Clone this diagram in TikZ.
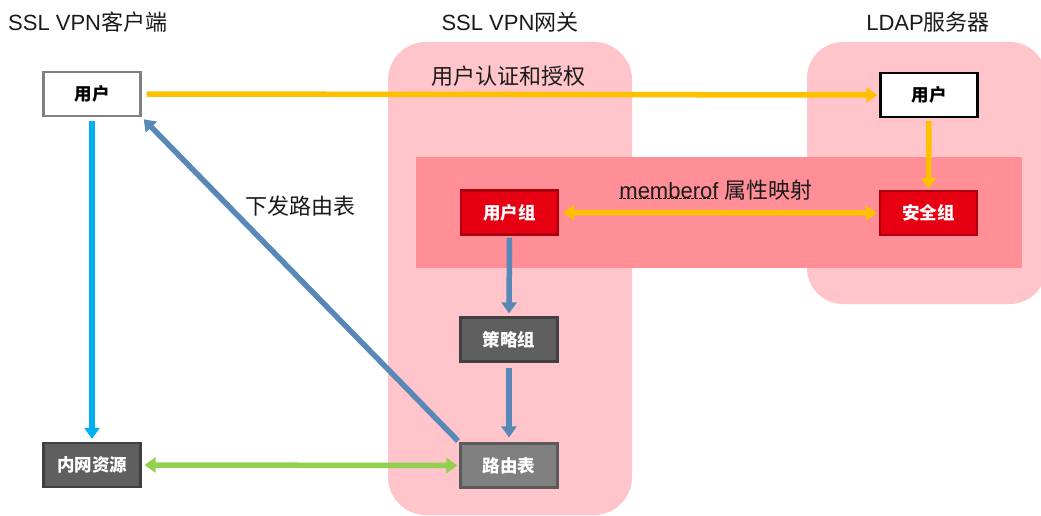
\documentclass[tikz,border=0pt]{standalone}
\usepackage{fontspec}
\setmainfont{Liberation Sans}
\newfontfamily\cjk{Noto Sans CJK SC}
\usetikzlibrary{arrows.meta}
\definecolor{lpink}{HTML}{FFC5CB}
\definecolor{dpink}{HTML}{FF8E97}
\definecolor{myred}{HTML}{E60012}
\definecolor{myredb}{HTML}{B0000E}
\definecolor{dgray}{HTML}{5F5F5F}
\definecolor{dgrayb}{HTML}{404040}
\definecolor{mgray}{HTML}{808080}
\definecolor{mgrayb}{HTML}{5A5A5A}
\definecolor{ylw}{HTML}{FFC000}
\definecolor{cyanb}{HTML}{00B0F0}
\definecolor{steel}{HTML}{5788B8}
\definecolor{grn}{HTML}{92D050}
\definecolor{txt}{HTML}{1A1A1A}
\tikzset{
  box/.style={minimum width=97pt, minimum height=44pt, inner sep=0pt, line width=2.2pt, font=\fontsize{17.5}{17.5}\selectfont\cjk\bfseries},
  whitebox/.style={box, draw=#1, fill=white, text=black},
  redbox/.style={box, draw=myredb, fill=myred, text=white},
  graybox/.style={box, draw=dgrayb, fill=dgray, text=white},
  lgraybox/.style={box, draw=mgrayb, fill=mgray, text=white},
  title/.style={font=\fontsize{22}{22}\selectfont, text=txt, inner sep=0pt},
  arr/.style={line width=5.5pt, -{Triangle[length=11pt,width=15pt]}},
  darr/.style={line width=5.5pt, {Triangle[length=11pt,width=15pt]}-{Triangle[length=11pt,width=15pt]}},
}
\begin{document}
\begin{tikzpicture}[x=1pt,y=-1pt]
\useasboundingbox (0,0) rectangle (1041,516);
\clip (0,0) rectangle (1041,516);
% regions
\fill[lpink, rounded corners=38pt] (388,42) rectangle (632,515);
\fill[lpink, rounded corners=36pt] (807,42) rectangle (1046,304);
\fill[dpink] (416,157) rectangle (1022,268);
% titles
\node[title, anchor=west] (t1) at (8,22) {SSL VPN{\cjk 客户端}};
\node[title] (t2) at (510,22) {SSL VPN{\cjk 网关}};
\node[title] (t3) at (928,22) {LDAP{\cjk 服务器}};
\node[title] (t4) at (508,76) {\cjk 用户认证和授权};
\node[title] (t5) at (300,206) {\cjk 下发路由表};
\node[title] (t6) at (716,190) {memberof {\cjk 属性映射}};
\draw[txt, line width=0.8pt, dash pattern=on 2.5pt off 1.5pt] ([yshift=2pt]t6.south west) -- ++(99,0);
% boxes
\node[whitebox=mgray] (cu) at (92,94) {用户};
\node[whitebox=black] (lu) at (929,95) {用户};
\node[redbox] (ug) at (509.5,212.5) {用户组};
\node[redbox] (sg) at (928.5,213) {安全组};
\node[graybox] (pg) at (509,339.5) {策略组};
\node[lgraybox] (rt) at (509,465.5) {路由表};
\node[graybox] (nw) at (92,465) {内网资源};
% connectors
\draw[arr, ylw, shorten <=5pt, shorten >=2pt] (cu.east) -- (lu.west);
\draw[arr, ylw, shorten <=3pt, shorten >=1pt] (lu.south) -- (sg.north);
\draw[darr, ylw, shorten <=4pt, shorten >=2pt] (ug.east) -- (sg.west);
\draw[arr, cyanb, shorten <=4pt, shorten >=3pt] (cu.south) -- (nw.north);
\draw[arr, steel, shorten <=2pt, shorten >=3pt] (ug.south) -- (pg.north);
\draw[arr, steel, shorten <=5pt, shorten >=5pt] (pg.south) -- (rt.north);
\draw[arr, steel, shorten <=2pt, shorten >=3pt] (rt.north west) -- (cu.south east);
\draw[darr, grn, shorten <=3pt, shorten >=2pt] (nw.east) -- (rt.west);
\end{tikzpicture}
\end{document}
